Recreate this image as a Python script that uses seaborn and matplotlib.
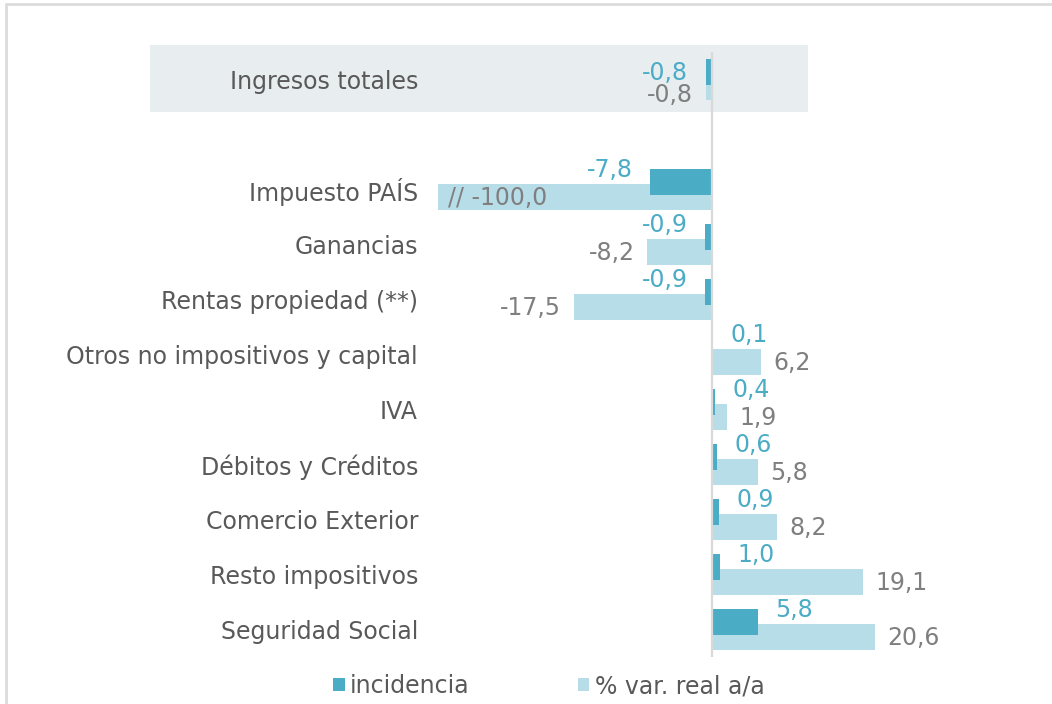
import numpy as np
import pandas as pd
import matplotlib
matplotlib.use("Agg")
import matplotlib.pyplot as plt
from matplotlib.patches import Patch, Rectangle
from matplotlib.lines import Line2D
import seaborn as sns

# ---- data ----
categories = ["Ingresos totales", "Impuesto PAÍS", "Ganancias", "Rentas propiedad (**)",
              "Otros no impositivos y capital", "IVA", "Débitos y Créditos",
              "Comercio Exterior", "Resto impositivos", "Seguridad Social"]
incidencia = [-0.8, -7.8, -0.9, -0.9, 0.1, 0.4, 0.6, 0.9, 1.0, 5.8]
var_real = [-0.8, -100.0, -8.2, -17.5, 6.2, 1.9, 5.8, 8.2, 19.1, 20.6]
series_names = ["incidencia", "% var. real a/a"]

# ---- style ----
sns.set_style("white")
FONT = ["DejaVu Sans"]
plt.rcParams["font.family"] = FONT
DARK = "#4BACC6"
LIGHT = "#B7DEE8"
LABEL_GRAY = "#595959"
VAL_GRAY = "#7F7F7F"
FS = 17

W, H = 1052, 704
fig = plt.figure(figsize=(W / 100, H / 100), dpi=100)
ax_left, ax_right, ax_top, ax_bot = 438, 1000, 52, 657
ax = fig.add_axes([ax_left / W, 1 - ax_bot / H, (ax_right - ax_left) / W, (ax_bot - ax_top) / H])
ax.patch.set_visible(False)

# layout positions: total row, a blank slot, then the components
pos = np.array([0] + list(range(2, len(categories) + 1)), dtype=float)
OFF = 0.14
BAR_H = 0.48
X_MIN = -34.64
X_MAX = 36.41

var_arr = np.array(var_real)
var_plot = np.maximum(var_arr, X_MIN)

df_var = pd.DataFrame({"y": pos + OFF, "x": var_plot})
df_inc = pd.DataFrame({"y": pos - OFF, "x": incidencia})

sns.barplot(data=df_var, x="x", y="y", orient="h", native_scale=True, width=BAR_H,
            color=LIGHT, saturation=1, errorbar=None, ax=ax, linewidth=0)
sns.barplot(data=df_inc, x="x", y="y", orient="h", native_scale=True, width=BAR_H,
            color=DARK, saturation=1, errorbar=None, ax=ax, linewidth=0)

ax.set_xlim(X_MIN, X_MAX)
ax.set_ylim(len(categories) + 0.5, -0.5)
ax.set_xlabel("")
ax.set_ylabel("")
ax.set_xticks([])
ax.set_yticks(pos)
ax.set_yticklabels(categories, fontsize=FS, color=LABEL_GRAY)
ax.tick_params(axis="y", length=0, pad=14.4)
for s in ax.spines.values():
    s.set_visible(False)
ax.axvline(0, color="#D9D9D9", lw=1.6, zorder=3)

# highlight box behind total row
ax.add_patch(Rectangle((-71.05, -0.62), 83.2, 1.22, facecolor="#E8EDF0", edgecolor="none",
                       zorder=0, clip_on=False))


def fmt(v):
    return f"{v:.1f}".replace(".", ",")


for i, (p, inc, var) in enumerate(zip(pos, incidencia, var_real)):
    dy_inc = -0.12 if i == 0 else -0.36
    dy_var = 0.29 if i == 0 else 0.16
    s = 1 if inc >= 0 else -1
    ax.annotate(fmt(inc), xy=(inc, p + dy_inc), xytext=(s * 12.5, 0), textcoords="offset points",
                ha="left" if s > 0 else "right", va="center", fontsize=FS, color=DARK, zorder=5)
    if var < X_MIN:
        ax.annotate("// " + fmt(var), xy=(X_MIN, p + dy_var), xytext=(7, 0),
                    textcoords="offset points", ha="left", va="center", fontsize=FS,
                    color=VAL_GRAY, zorder=5)
    else:
        s = 1 if var >= 0 else -1
        ax.annotate(fmt(var), xy=(var, p + dy_var), xytext=(s * 9, 0), textcoords="offset points",
                    ha="left" if s > 0 else "right", va="center", fontsize=FS, color=VAL_GRAY,
                    zorder=5)

handles = [Patch(facecolor=DARK, edgecolor="none"), Patch(facecolor=LIGHT, edgecolor="none")]
leg = fig.legend(handles, series_names, ncol=2, loc="center", bbox_to_anchor=(0.5215, 1 - 686 / H),
                 frameon=False, fontsize=FS, handlelength=0.5, handleheight=0.5,
                 handletextpad=0.22, columnspacing=4.57)
for t in leg.get_texts():
    t.set_color(LABEL_GRAY)

# outer frame (left and top edges)
fig.add_artist(Line2D([6 / W, 6 / W], [0, 1 - 4 / H], color="#DCDCDC", lw=2, transform=fig.transFigure))
fig.add_artist(Line2D([6 / W, 1], [1 - 4 / H, 1 - 4 / H], color="#DCDCDC", lw=2, transform=fig.transFigure))

fig.savefig("out.png", dpi=100)
